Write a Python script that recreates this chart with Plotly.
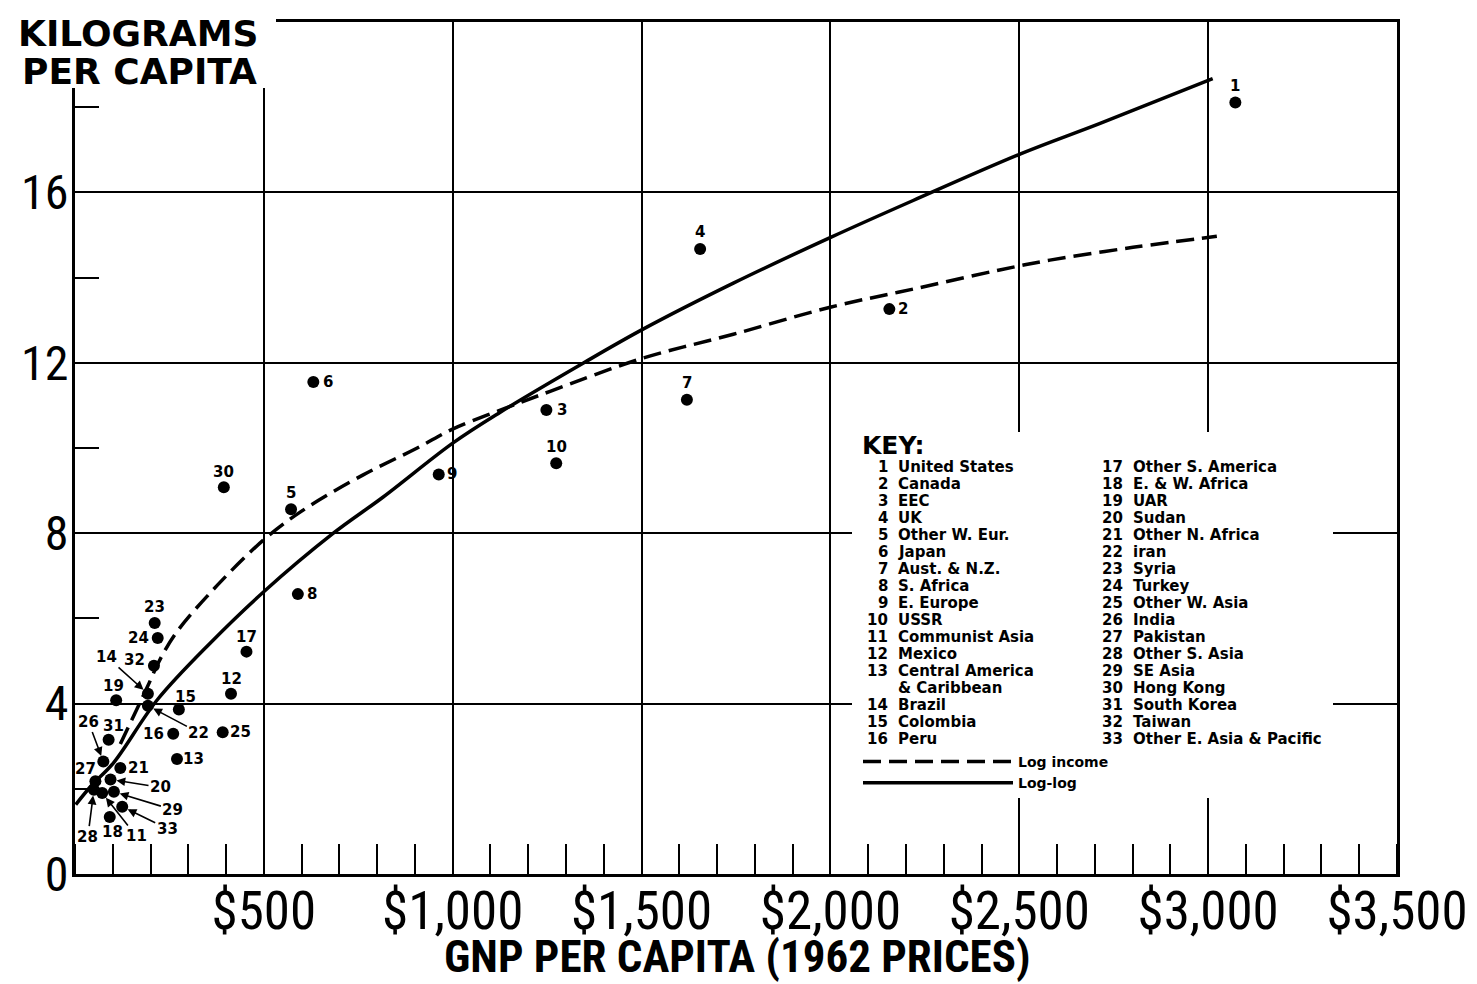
import plotly.graph_objects as go

# ---------------- data ----------------
country_ids = list(range(1, 34))
country_names = [
    "United States", "Canada", "EEC", "UK", "Other W. Eur.", "Japan",
    "Aust. & N.Z.", "S. Africa", "E. Europe", "USSR", "Communist Asia",
    "Mexico", "Central America\n& Caribbean", "Brazil", "Colombia", "Peru",
    "Other S. America", "E. & W. Africa", "UAR", "Sudan", "Other N. Africa",
    "iran", "Syria", "Turkey", "Other W. Asia", "India", "Pakistan",
    "Other S. Asia", "SE Asia", "Hong Kong", "South Korea", "Taiwan",
    "Other E. Asia & Pacific",
]
gnp_per_capita = [3072, 2156, 1248, 1655, 572, 631, 1620, 590, 963, 1274,
                  72, 413, 270, 193, 275, 260, 454, 92, 109, 94,
                  120, 193, 211, 219, 391, 75, 54, 50, 103, 394,
                  89, 209, 125]
kg_per_capita = [18.11, 13.26, 10.89, 14.67, 8.56, 11.55, 11.13, 6.57, 9.38, 9.64,
                 1.90, 4.23, 2.70, 4.23, 3.86, 3.29, 5.22, 1.34, 4.08, 2.22,
                 2.49, 3.95, 5.89, 5.54, 3.33, 2.64, 2.18, 1.98, 1.93, 9.08,
                 3.15, 4.89, 1.58]

# fitted curves
log_income_gnp = [120, 192, 226, 271, 377, 499, 597, 763, 906, 1001, 1126, 1258,
                  1504, 1743, 2002, 2229, 2448, 2581, 2801, 3023]
log_income_kg = [3.05, 4.40, 5.05, 5.70, 6.78, 7.84, 8.50, 9.37, 10.00, 10.45, 10.89, 11.33,
                 12.11, 12.67, 13.31, 13.75, 14.18, 14.41, 14.71, 14.97]
log_log_gnp = [2, 46, 102, 218, 359, 499, 684, 816, 1001, 1126, 1345, 1504,
               1743, 2002, 2219, 2505, 2714, 3012]
log_log_kg = [1.63, 2.10, 2.61, 4.09, 5.43, 6.62, 8.00, 8.85, 10.12, 10.84, 11.99, 12.79,
              13.87, 14.95, 15.81, 16.91, 17.62, 18.67]

x_tick_vals = [500, 1000, 1500, 2000, 2500, 3000, 3500]
x_tick_text = ["$500", "$1,000", "$1,500", "$2,000", "$2,500", "$3,000", "$3,500"]
y_tick_vals = [0, 4, 8, 12, 16]
y_tick_text = ["0", "4", "8", "12", "16"]
x_title = "GNP PER CAPITA (1962 PRICES)"

# ---------------- styling ----------------
W, H = 1477, 984
ML, MR, MT, MB = 75, 80, 22, 110


def px_x(px):
    return (px - ML) / (W - ML - MR)


def px_y(py):
    return (H - MB - py) / (H - MT - MB)


WIDE = "DejaVu Sans, Verdana, sans-serif"
COND = "Roboto Condensed, Liberation Sans, sans-serif"

# label placement (screen px offsets from the dot)
plain_labels = {1: (0, -17), 2: (14, 0), 3: (16, 0), 4: (0, -17), 5: (0, -16),
                6: (15, 0), 7: (0, -17), 8: (14, 0), 9: (13, 0), 10: (0, -16),
                12: (0, -15), 13: (17, 0), 15: (7, -13), 16: (-20, 0), 17: (0, -15),
                19: (-3, -14), 23: (0, -16), 24: (-19, 0), 25: (18, 0), 30: (0, -15),
                31: (5, -14), 32: (-19, -6), 27: (-10, -12), 21: (18, 0), 18: (3, 15)}
arrow_labels = {14: (-41, -37), 22: (51, 27), 26: (-15, -40), 20: (50, 8),
                29: (59, 18), 33: (45, 22), 11: (34, 43), 28: (-6, 47)}

fig = go.Figure()

fig.add_trace(go.Scatter(
    x=log_income_gnp, y=log_income_kg, mode="lines", name="Log income",
    line=dict(color="black", width=3.5, dash="18px,8px", shape="spline", smoothing=1.0),
))
fig.add_trace(go.Scatter(
    x=log_log_gnp, y=log_log_kg, mode="lines", name="Log-log",
    line=dict(color="black", width=3.5, shape="spline", smoothing=1.0),
))
fig.add_trace(go.Scatter(
    x=gnp_per_capita, y=kg_per_capita, mode="markers", showlegend=False,
    marker=dict(color="black", size=12),
    text=[str(i) for i in country_ids], hovertemplate="%{text}: %{x}, %{y}<extra></extra>",
))

annotations = []
lab_font = dict(family=WIDE, size=15, color="black", weight="bold")
for cid, gx, ky in zip(country_ids, gnp_per_capita, kg_per_capita):
    if cid in arrow_labels:
        ax, ay = arrow_labels[cid]
        annotations.append(dict(x=gx, y=ky, xref="x", yref="y", text=str(cid),
                                showarrow=True, ax=ax, ay=ay, arrowhead=2,
                                arrowsize=1.1, arrowwidth=1.6, arrowcolor="black",
                                standoff=6, font=lab_font))
    else:
        dx, dy = plain_labels[cid]
        annotations.append(dict(x=gx, y=ky, xref="x", yref="y", text=str(cid),
                                showarrow=False, xshift=dx, yshift=-dy, font=lab_font))

# Y title (two lines)
annotations.append(dict(x=px_x(16), y=px_y(33), xref="paper", yref="paper",
                        text="KILOGRAMS", showarrow=False, xanchor="left", yanchor="middle",
                        font=dict(family=WIDE, size=36, color="black", weight="bold")))
annotations.append(dict(x=px_x(20), y=px_y(71), xref="paper", yref="paper",
                        text="PER CAPITA", showarrow=False, xanchor="left", yanchor="middle",
                        font=dict(family=WIDE, size=36, color="black", weight="bold")))
# X title
annotations.append(dict(x=px_x(737), y=px_y(957), xref="paper", yref="paper",
                        text=x_title, showarrow=False, xanchor="center", yanchor="middle",
                        font=dict(family=COND, size=45, color="black", weight="bold")))

# Key
annotations.append(dict(x=px_x(860), y=px_y(446), xref="paper", yref="paper", text="KEY:",
                        showarrow=False, xanchor="left", yanchor="middle",
                        font=dict(family=WIDE, size=25, color="black", weight="bold")))
key_font = dict(family=WIDE, size=15, color="black", weight="bold")
rows = []
for cid, name in zip(country_ids, country_names):
    parts = name.split("\n")
    rows.append((str(cid), parts[0]))
    for extra in parts[1:]:
        rows.append(("", extra))
half = 17
columns = [(rows[:half], 890, 896), (rows[half:], 1125, 1131)]
for col_rows, num_right, name_left in columns:
    for r, (num, name) in enumerate(col_rows):
        yy = px_y(467 + r * 17)
        if num:
            annotations.append(dict(x=px_x(num_right), y=yy, xref="paper", yref="paper",
                                    text=num, showarrow=False, xanchor="right",
                                    yanchor="middle", font=key_font))
        annotations.append(dict(x=px_x(name_left), y=yy, xref="paper", yref="paper",
                                text=name, showarrow=False, xanchor="left",
                                yanchor="middle", font=key_font))

shapes = [
    # white panel behind the key
    dict(type="rect", xref="paper", yref="paper",
         x0=px_x(852), x1=px_x(1333), y0=px_y(798), y1=px_y(432),
         fillcolor="white", line=dict(width=0), layer="above"),
    # blank corner behind the y-axis title
    dict(type="rect", xref="paper", yref="paper",
         x0=px_x(0), x1=px_x(276), y0=px_y(88), y1=px_y(0),
         fillcolor="white", line=dict(width=0), layer="above"),
]

fig.update_layout(
    width=W, height=H,
    margin=dict(l=ML, r=MR, t=MT, b=MB, autoexpand=False),
    paper_bgcolor="white", plot_bgcolor="white",
    showlegend=True,
    legend=dict(x=px_x(858), y=px_y(746), xanchor="left", yanchor="top",
                bgcolor="rgba(0,0,0,0)", itemwidth=150,
                font=dict(family=WIDE, size=14, color="black", weight="bold"),
                tracegroupgap=0),
    annotations=annotations,
    shapes=shapes,
    xaxis=dict(
        range=[0, 3500], tickmode="array", tickvals=x_tick_vals, ticktext=x_tick_text,
        showgrid=True, gridcolor="black", gridwidth=2, zeroline=False,
        showline=True, linecolor="black", linewidth=3, mirror=True,
        ticks="", tickfont=dict(family=COND, size=53, color="black"),
        ticklabelstandoff=-12, ticklabeloverflow="allow",
        minor=dict(tickmode="linear", tick0=0, dtick=100, ticks="inside", ticklen=30,
                   tickwidth=2, tickcolor="black", showgrid=False),
    ),
    yaxis=dict(
        range=[0, 20], tickmode="array", tickvals=y_tick_vals, ticktext=y_tick_text,
        showgrid=True, gridcolor="black", gridwidth=2, zeroline=False,
        showline=True, linecolor="black", linewidth=3, mirror=True,
        ticks="", tickfont=dict(family=COND, size=48, color="black"),
        ticklabelstandoff=-6,
        minor=dict(tickmode="array", tickvals=[2, 6, 10, 14, 18], ticks="inside",
                   ticklen=24, tickwidth=2, tickcolor="black", showgrid=False),
    ),
)

fig.write_html("out.html", config={"displayModeBar": False},
               post_script="document.body.style.margin='0';document.body.style.overflow='hidden';")
